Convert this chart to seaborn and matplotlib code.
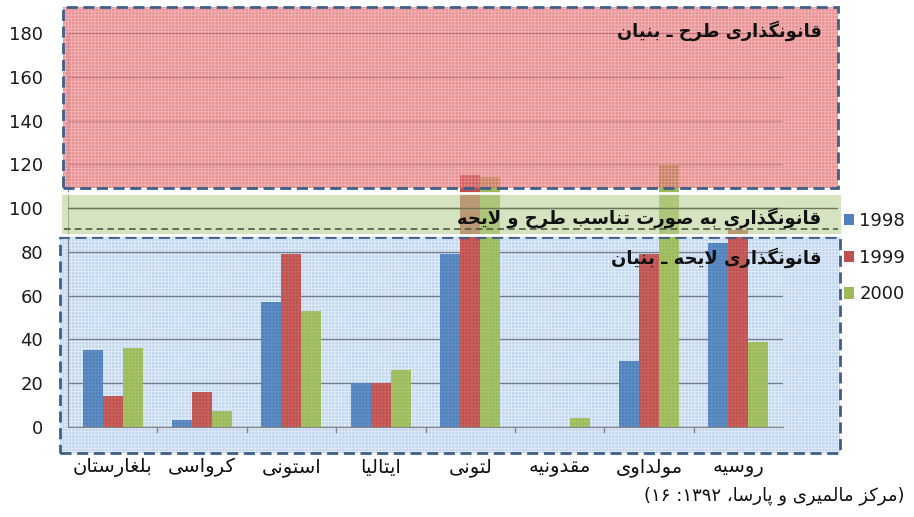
import numpy as np
import pandas as pd
import matplotlib
matplotlib.use('Agg')
import matplotlib.pyplot as plt
from matplotlib.patches import Rectangle
import seaborn as sns

# Data
countries = ['بلغارستان', 'کرواسی', 'استونی', 'ایتالیا', 'لتونی', 'مقدونیه', 'مولداوی', 'روسیه']
years = ['1998', '1999', '2000']
v1998 = [35, 3, 57, 20, 79, 0, 30, 84]
v1999 = [14, 16, 79, 20, 115, 0, 79, 90]
v2000 = [36, 7.5, 53, 26, 114, 4, 120, 39]
yticks = [0, 20, 40, 60, 80, 100, 120, 140, 160, 180]

zone_top = 'قانونگذاری طرح ـ بنیان'
zone_mid = 'قانونگذاری به صورت تناسب طرح و لایحه'
zone_low = 'قانونگذاری لایحه ـ بنیان'
source = '(مرکز مالمیری و پارسا، ۱۳۹۲: ۱۶)'

colors = ['#4F81BD', '#C0504D', '#9BBB59']

# --- minimal Persian shaping (matplotlib has no bidi / shaping) ---
LAMALEF = '\uFEFB'
FORMS = {
    'ا': ('\uFE8D', '\uFE8E', None, None),
    'ب': ('\uFE8F', '\uFE90', '\uFE91', '\uFE92'),
    'پ': ('\uFB56', '\uFB57', '\uFB58', '\uFB59'),
    'ت': ('\uFE95', '\uFE96', '\uFE97', '\uFE98'),
    'ح': ('\uFEA1', '\uFEA2', '\uFEA3', '\uFEA4'),
    'د': ('\uFEA9', '\uFEAA', None, None),
    'ذ': ('\uFEAB', '\uFEAC', None, None),
    'ر': ('\uFEAD', '\uFEAE', None, None),
    'ز': ('\uFEAF', '\uFEB0', None, None),
    'س': ('\uFEB1', '\uFEB2', '\uFEB3', '\uFEB4'),
    'ص': ('\uFEB9', '\uFEBA', '\uFEBB', '\uFEBC'),
    'ط': ('\uFEC1', '\uFEC2', '\uFEC3', '\uFEC4'),
    'غ': ('\uFECD', '\uFECE', '\uFECF', '\uFED0'),
    'ق': ('\uFED5', '\uFED6', '\uFED7', '\uFED8'),
    'ک': ('\uFB8E', '\uFB8F', '\uFB90', '\uFB91'),
    'گ': ('\uFB92', '\uFB93', '\uFB94', '\uFB95'),
    'ل': ('\uFEDD', '\uFEDE', '\uFEDF', '\uFEE0'),
    'م': ('\uFEE1', '\uFEE2', '\uFEE3', '\uFEE4'),
    'ن': ('\uFEE5', '\uFEE6', '\uFEE7', '\uFEE8'),
    'ه': ('\uFEE9', '\uFEEA', '\uFEEB', '\uFEEC'),
    'و': ('\uFEED', '\uFEEE', None, None),
    'ی': ('\uFBFC', '\uFBFD', '\uFBFE', '\uFBFF'),
    'ـ': ('\u0640', '\u0640', '\u0640', '\u0640'),
    LAMALEF: ('\uFEFB', '\uFEFC', None, None),
}


def rtl(s):
    s = s.replace('لا', LAMALEF)
    out = []
    for i, c in enumerate(s):
        if c not in FORMS:
            out.append(c)
            continue
        f = FORMS[c]
        prev = s[i - 1] if i > 0 else ''
        nxt = s[i + 1] if i + 1 < len(s) else ''
        jp = prev in FORMS and FORMS[prev][2] is not None
        jn = nxt in FORMS and f[2] is not None
        if jp and jn:
            out.append(f[3])
        elif jp:
            out.append(f[1])
        elif jn:
            out.append(f[2])
        else:
            out.append(f[0])
    # reverse for visual order, keeping digit runs left-to-right
    tokens = []
    for c in out:
        if c.isdigit() and tokens and tokens[-1][-1].isdigit():
            tokens[-1] += c
        else:
            tokens.append(c)
    mirror = {'(': ')', ')': '('}
    return ''.join(mirror.get(t, t) for t in reversed(tokens))


labels = [rtl(c) for c in countries]

df = pd.DataFrame({
    'country': labels * 3,
    'year': np.repeat(years, len(countries)),
    'value': v1998 + v1999 + v2000,
})

sns.set_style('white')
plt.rcParams['font.family'] = ['DejaVu Sans']
plt.rcParams['hatch.linewidth'] = 0.6

W, H = 914, 517
fig = plt.figure(figsize=(W / 100, H / 100), dpi=100)
fig.patch.set_facecolor('white')
ax = fig.add_axes([68 / W, (H - 427) / H, 715 / W, 394 / H])

sns.barplot(data=df, x='country', y='value', hue='year', order=labels,
            hue_order=years, palette=colors, width=0.67, saturation=1,
            linewidth=0, ax=ax, zorder=2)

ax.set_xlim(-0.5, 7.5)
ax.set_ylim(0, 180)
ax.set_yticks(yticks)
ax.set_xlabel('')
ax.set_ylabel('')
ax.grid(axis='y', color='#6f7a8a', lw=1)
ax.set_axisbelow(True)
for side in ['top', 'right']:
    ax.spines[side].set_visible(False)
ax.spines['left'].set_color('#868686')
ax.spines['bottom'].set_color('#868686')
ax.tick_params(axis='y', length=0, pad=18, labelsize=13, labelcolor='#1a1a1a')
ax.tick_params(axis='x', length=0, pad=22, labelsize=14, labelcolor='#111111')
for b in np.arange(0.5, 7.5, 1):
    ax.plot([b, b], [0, -2.2], color='#868686', lw=1, clip_on=False)

# shaded zones, extending past the plot area
border = '#3E5F8A'


def zone(x0, x1, y0, y1, color, alpha, hatch_alpha, z):
    ax.add_patch(Rectangle((x0, y0), x1 - x0, y1 - y0, facecolor=color,
                           alpha=alpha, lw=0, zorder=z, clip_on=False))
    if hatch_alpha:
        ax.add_patch(Rectangle((x0, y0), x1 - x0, y1 - y0, facecolor='none',
                               edgecolor=(1, 1, 1, hatch_alpha), hatch='+++++', lw=0,
                               zorder=z + 0.05, clip_on=False))


# blue zone sits behind the bars
zone(-0.59, 8.14, -11.9, 86.8, '#B8D0EE', 0.85, 0.5, 0.1)
ax.add_patch(Rectangle((-0.59, -11.9), 8.73, 98.7, facecolor='none',
                       edgecolor=border, lw=2, ls=(0, (4, 2)), zorder=4, clip_on=False))
# light hatch over the bars in the blue zone
ax.add_patch(Rectangle((-0.5, 0), 8.0, 86.8, facecolor='none',
                       edgecolor=(1, 1, 1, 0.12), hatch='+++++', lw=0,
                       zorder=2.5, clip_on=False))

# red zone over the bars
zone(-0.556, 8.115, 109.2, 191.9, '#E05F62', 0.68, 0.32, 3)
ax.add_patch(Rectangle((-0.556, 109.2), 8.671, 82.7, facecolor='none',
                       edgecolor=border, lw=2, ls=(0, (4, 2)), zorder=4, clip_on=False))

# green band
zone(-0.59, 8.16, 87.7, 106.9, '#B9CF93', 0.58, 0, 4.5)
ax.add_patch(Rectangle((-0.59, 87.7), 8.75, 19.2, facecolor='none',
                       edgecolor='white', lw=2, zorder=4.7, clip_on=False))
ax.plot([-0.55, 8.12], [90.5, 90.5], color='#4d5a40', lw=1.2, ls=(0, (4, 2.5)),
        zorder=4.8, clip_on=False)
ax.plot([-0.5, 8.1], [100, 100], color='#6b7a55', lw=1, zorder=4.6, clip_on=False)

# zone captions
ax.text(7.93, 181, rtl(zone_top), ha='right', va='center', fontsize=12.8,
        fontweight='bold', color='#111111', zorder=6)
ax.text(7.93, 95.5, rtl(zone_mid), ha='right', va='center', fontsize=13,
        fontweight='bold', color='#111111', zorder=6)
ax.text(7.93, 77.5, rtl(zone_low), ha='right', va='center', fontsize=13,
        fontweight='bold', color='#111111', zorder=6)

leg = ax.legend(loc='upper left', bbox_to_anchor=(844 / W, (H - 212) / H),
                bbox_transform=fig.transFigure, frameon=False, fontsize=13,
                handlelength=0.55, handleheight=0.6, handletextpad=0.3,
                labelspacing=1.03, borderpad=0, borderaxespad=0)
for t in leg.get_texts():
    t.set_color('#1a1a1a')

fig.text(905 / W, (H - 496) / H, rtl(source), ha='right', va='center',
         fontsize=13, color='#111111')

fig.savefig('out.png', dpi=100)
